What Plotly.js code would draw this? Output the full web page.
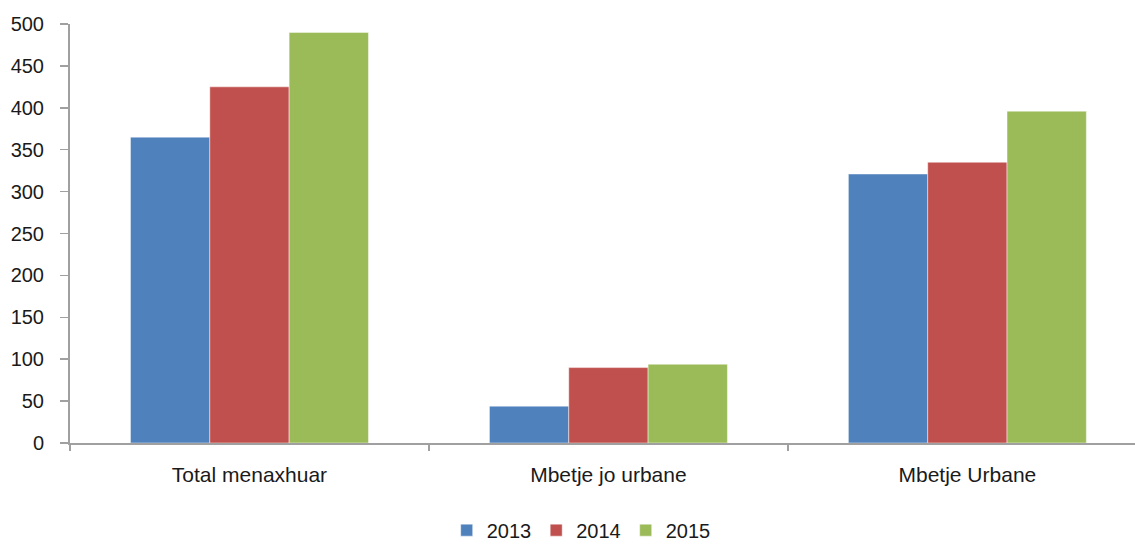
<!DOCTYPE html>
<html>
<head>
<meta charset="utf-8">
<script src="https://cdn.plot.ly/plotly-3.0.1.min.js"></script>
<style>html,body{margin:0;padding:0;background:#fff;}#chart{width:1135px;height:546px;}</style>
</head>
<body>
<div id="chart"></div>
<script>
var categories = ["Total menaxhuar", "Mbetje jo urbane", "Mbetje Urbane"];
var seriesNames = ["2013", "2014", "2015"];
var values2013 = [365, 44, 321];
var values2014 = [425, 90, 335];
var values2015 = [490, 94, 396];
var yTicks = [0, 50, 100, 150, 200, 250, 300, 350, 400, 450, 500];

var colors = ["#4f81bd", "#c0504d", "#9bbb59"];
var allValues = [values2013, values2014, values2015];
var traces = allValues.map(function (vals, i) {
  return {
    type: "bar",
    name: seriesNames[i],
    x: categories,
    y: vals,
    marker: { color: colors[i], line: { color: "rgba(255,255,255,0.45)", width: 1 } },
    hoverinfo: "none"
  };
});

var fam = "Liberation Sans, Arial, sans-serif";
var xfont = { family: fam, size: 21, color: "#1a1a1a" };
var yfont = { family: fam, size: 20, color: "#1a1a1a" };
var lfont = { family: fam, size: 20, color: "#1a1a1a" };
var layout = {
  width: 1135,
  height: 546,
  margin: { l: 70, r: 0, t: 24, b: 103, autoexpand: false },
  paper_bgcolor: "#ffffff",
  plot_bgcolor: "#ffffff",
  font: xfont,
  barmode: "group",
  bargap: 0.337,
  bargroupgap: 0,
  showlegend: true,
  legend: {
    orientation: "h",
    x: 0.48,
    xanchor: "center",
    y: -0.208,
    yanchor: "middle",
    font: lfont,
    traceorder: "normal"
  },
  xaxis: {
    type: "category",
    range: [-0.5, 2.467],
    showgrid: false,
    showline: true,
    linecolor: "#a0a0a0",
    linewidth: 2,
    ticks: "outside",
    tickson: "boundaries",
    ticklen: 6,
    tickwidth: 1.5,
    tickcolor: "#a0a0a0",
    ticklabelstandoff: 12,
    tickfont: xfont,
    zeroline: false
  },
  yaxis: {
    range: [0, 500],
    tickmode: "array",
    tickvals: yTicks,
    ticktext: yTicks.map(String),
    showgrid: false,
    showline: true,
    linecolor: "#a0a0a0",
    linewidth: 2,
    ticks: "outside",
    ticklen: 8,
    tickwidth: 1.5,
    tickcolor: "#a0a0a0",
    ticklabelstandoff: 12,
    tickfont: yfont,
    zeroline: false
  }
};

Plotly.newPlot("chart", traces, layout, { staticPlot: true, displayModeBar: false });
</script>
</body>
</html>
